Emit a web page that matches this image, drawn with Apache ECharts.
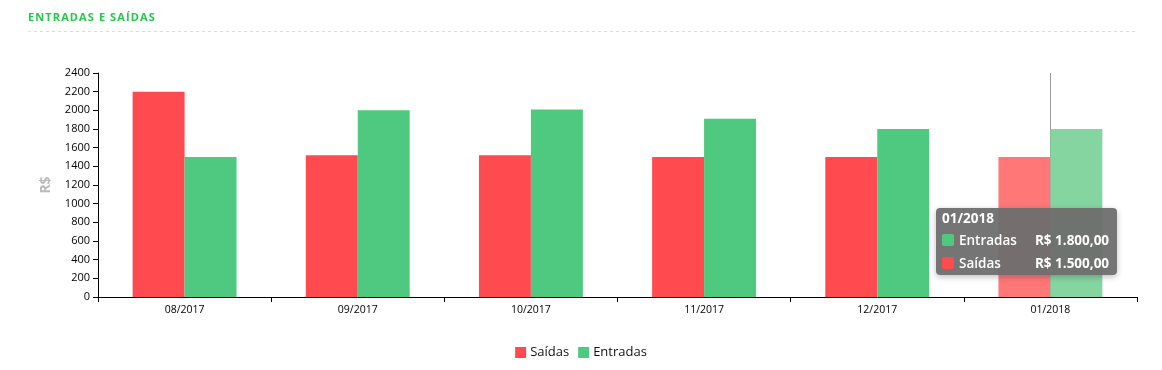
<!DOCTYPE html>
<html>
<head>
<meta charset="utf-8">
<script src="https://cdn.jsdelivr.net/npm/echarts@6/dist/echarts.min.js"></script>
<style>
html,body{margin:0;padding:0;background:#fff;}
#chart{width:1162px;height:370px;}
</style>
</head>
<body>
<div id="chart"></div>
<script>
const categories = ['08/2017','09/2017','10/2017','11/2017','12/2017','01/2018'];
const saidas = [2200, 1520, 1520, 1500, 1500, 1500];
const entradas = [1500, 2000, 2010, 1910, 1800, 1800];
const yTicks = [0,200,400,600,800,1000,1200,1400,1600,1800,2000,2200,2400];

const RED = '#ff4a4f', GREEN = '#4ec97f';
const RED_L = '#ff7777', GREEN_L = '#85d5a1';
const FONT = '"Open Sans", sans-serif';

function fmt(v){
  const s = v.toFixed(2).split('.');
  return 'R$ ' + s[0].replace(/\B(?=(\d{3})+(?!\d))/g,'.') + ',' + s[1];
}

const chart = echarts.init(document.getElementById('chart'));
chart.setOption({
  animation:false,
  textStyle:{fontFamily:FONT},
  title:{text:'ENTRADAS E SAÍDAS'.split('').join('\u200A'),left:28,top:12,padding:0,
    textStyle:{fontSize:11,fontWeight:'bold',color:'#22c84a',fontFamily:FONT}},
  graphic:[{type:'line',shape:{x1:28,y1:31.5,x2:1138,y2:31.5},style:{stroke:'#dcdcdc',lineWidth:1,lineDash:[3,3]},silent:true}],
  legend:{
    data:['Saídas','Entradas'],bottom:6,left:'center',
    itemWidth:11,itemHeight:11,itemGap:9,icon:'rect',
    textStyle:{fontSize:13,color:'#111',fontFamily:FONT,padding:[0,0,0,-1]}
  },
  grid:{left:98,right:25,top:73,bottom:73,containLabel:false},
  tooltip:{
    trigger:'axis',
    axisPointer:{type:'line',z:0,lineStyle:{color:'#999',width:1,type:'solid'}},
    backgroundColor:'rgba(110,110,110,0.95)',borderWidth:0,padding:[0,7,0,6],
    extraCssText:'border-radius:4px;box-shadow:0 2px 6px rgba(0,0,0,0.25);',
    position:function(){return [936,208];},
    formatter:function(params){
      const idx = params[0].dataIndex;
      const row=(c,n,v)=>'<tr><td style="padding:1px 0"><span style="display:inline-block;width:12px;height:12px;border-radius:2px;background:'+c+';vertical-align:-1px;margin-right:5px"></span>'+n+'</td><td style="text-align:right;padding-left:18px;font-weight:bold">'+fmt(v)+'</td></tr>';
      return '<div style="color:#fff;font-family:'+FONT.replace(/"/g,"'")+';font-size:13.5px;line-height:21px;font-weight:600">'+
        '<div style="font-weight:bold">'+categories[idx]+'</div>'+
        '<table style="border-collapse:collapse;color:#fff;font-size:13.5px;font-weight:600">'+
        row(GREEN,'Entradas',entradas[idx])+row(RED,'Saídas',saidas[idx])+'</table></div>';
    }
  },
  xAxis:{
    type:'category',data:categories,
    axisLine:{lineStyle:{color:'#000',width:1}},
    axisTick:{show:true,length:5,lineStyle:{color:'#000'}},
    axisLabel:{fontSize:10.5,color:'#000',margin:8,fontFamily:FONT}
  },
  yAxis:{
    type:'value',min:0,max:2400,interval:200,
    name:'R$',nameLocation:'middle',nameRotate:90,nameGap:45,
    nameTextStyle:{fontSize:14,fontWeight:'bold',color:'#bbb',fontFamily:FONT},
    axisLine:{show:true,lineStyle:{color:'#000',width:1}},
    axisTick:{show:true,length:5,lineStyle:{color:'#000'}},
    axisLabel:{fontSize:11,color:'#000',margin:8,fontFamily:FONT,
      formatter:function(v){return yTicks.indexOf(v)>=0?String(v):'';}},
    splitLine:{show:false}
  },
  series:[
    {name:'Saídas',type:'bar',data:saidas,barGap:'0%',barCategoryGap:'40%',
      itemStyle:{color:RED},emphasis:{itemStyle:{color:RED_L}}},
    {name:'Entradas',type:'bar',data:entradas,barGap:'0%',barCategoryGap:'40%',
      itemStyle:{color:GREEN},emphasis:{itemStyle:{color:GREEN_L}}}
  ]
});
chart.dispatchAction({type:'showTip',seriesIndex:0,dataIndex:5});
chart.dispatchAction({type:'highlight',seriesIndex:[0,1],dataIndex:5});
</script>
</body>
</html>
